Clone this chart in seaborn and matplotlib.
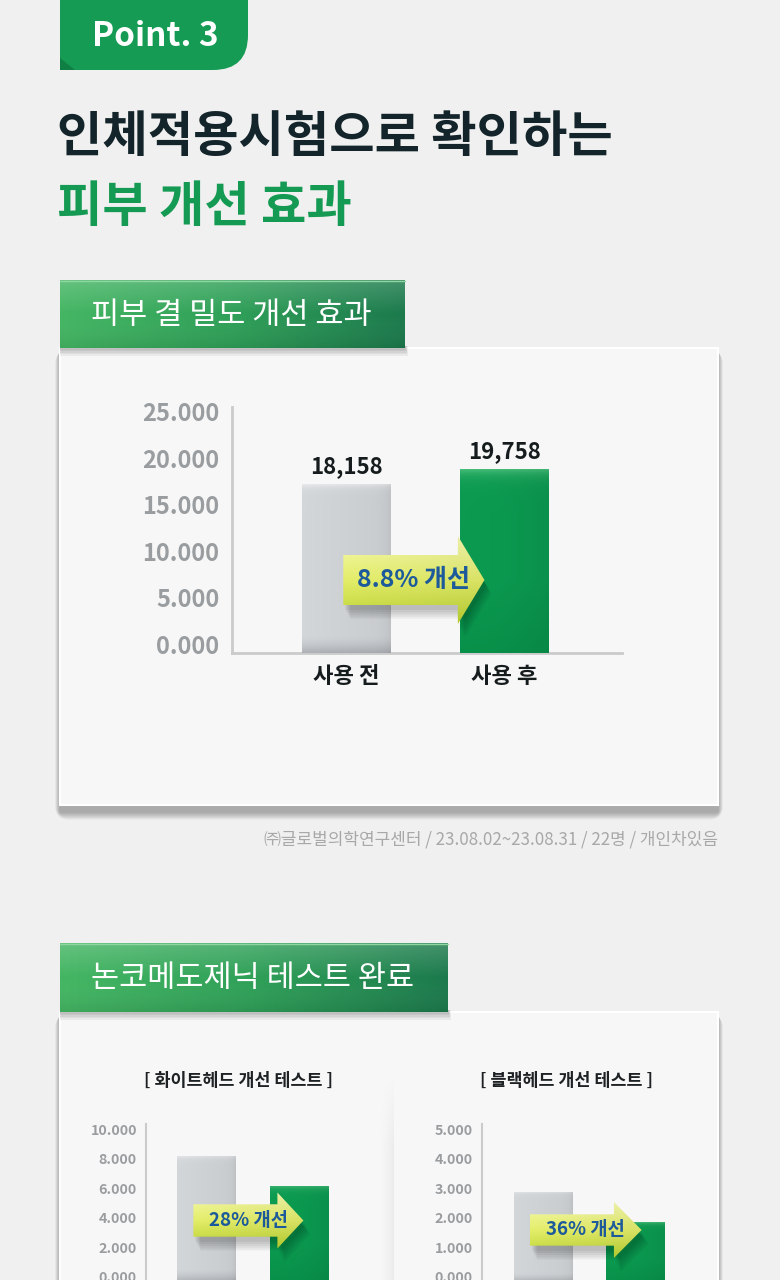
import numpy as np
import matplotlib
matplotlib.use("Agg")
import matplotlib.pyplot as plt
import seaborn as sns
import pandas as pd
from matplotlib.patches import FancyBboxPatch, Rectangle, Polygon
from matplotlib.colors import LinearSegmentedColormap, to_rgb
from matplotlib.transforms import ScaledTranslation

# ---------------- data ----------------
categories = ["사용 전", "사용 후"]

density_values = [18158, 19758]
density_labels = ["18,158", "19,758"]
density_ticks = [0, 5000, 10000, 15000, 20000, 25000]
density_ticklabels = ["0.000", "5.000", "10.000", "15.000", "20.000", "25.000"]
density_change = "8.8% 개선"

whitehead_values = [8560, 6510]
whitehead_ticks = [0, 2000, 4000, 6000, 8000, 10000]
whitehead_ticklabels = ["0.000", "2.000", "4.000", "6.000", "8.000", "10.000"]
whitehead_change = "28% 개선"

blackhead_values = [3060, 2020]
blackhead_ticks = [0, 1000, 2000, 3000, 4000, 5000]
blackhead_ticklabels = ["0.000", "1.000", "2.000", "3.000", "4.000", "5.000"]
blackhead_change = "36% 개선"

point_label = "Point. 3"
title_line1 = "인체적용시험으로 확인하는"
title_line2 = "피부 개선 효과"
section1_title = "피부 결 밀도 개선 효과"
section2_title = "논코메도제닉 테스트 완료"
sub_titles = ["[ 화이트헤드 개선 테스트 ]", "[ 블랙헤드 개선 테스트 ]"]
footnote = "㈜글로벌의학연구센터 / 23.08.02~23.08.31 / 22명 / 개인차있음"

# ---------------- style ----------------
sns.set_theme(style="white")
plt.rcParams['font.family'] = ['Noto Sans CJK KR', 'DejaVu Sans']

BG = "#f0f0f0"
CARD = "#f7f7f7"
GREEN = "#0b9a50"
GRAY = "#c9cdd1"
DARK = "#13242a"
TICK = "#9a9da0"
BLUE = "#1d5a9b"

W, H = 780, 1280
fig = plt.figure(figsize=(7.8, 12.8), dpi=100, facecolor=BG)
bg = fig.add_axes([0, 0, 1, 1], zorder=0)
bg.set_xlim(0, W)
bg.set_ylim(H, 0)
bg.axis('off')
bg.set_autoscale_on(False)


def bg_grad(x0, y0, x1, y1, colors, direction='h', zorder=1, clip=None, alpha=1.0):
    cmap = LinearSegmentedColormap.from_list('g', colors)
    g = np.linspace(0, 1, 256)
    arr = g[None, :] if direction == 'h' else g[:, None]
    im = bg.imshow(arr, cmap=cmap, extent=[x0, x1, y1, y0], origin='upper',
                   aspect='auto', zorder=zorder, interpolation='bilinear', alpha=alpha)
    if clip is not None:
        im.set_clip_path(clip)
    return im


def card_shadow(x0, y0, x1, y1, layers=10, spread=14, dy=7, alpha=0.03):
    for i in range(layers):
        s = spread * (i + 1) / layers
        bg.add_patch(FancyBboxPatch((x0 - s * 0.35, y0 + dy * 0.4),
                                    (x1 - x0) + s * 0.7, (y1 - y0) + s * 0.55 + dy * 0.6,
                                    boxstyle=f"round,pad=0,rounding_size={s}",
                                    fc='black', ec='none', alpha=alpha, zorder=1))


def header_box(x0, y0, x1, y1, text):
    for i in range(5):
        s = 1.5 * (i + 1)
        bg.add_patch(Rectangle((x0, y1 - 2), (x1 - x0) + s * 0.4, 2 + s,
                               fc='black', ec='none', alpha=0.05, zorder=4))
    rect = Rectangle((x0, y0), x1 - x0, y1 - y0, fc='none', ec='none', zorder=5)
    bg.add_patch(rect)
    bg_grad(x0, y0, x1, y1, ["#44b663", "#2fa058", "#1c7a4c"], 'h', zorder=5, clip=rect)
    bg_grad(x0, y0, x1, y1, [(1, 1, 1, 0.18), (1, 1, 1, 0.0), (0, 0, 0, 0.08)], 'v', zorder=5.1, clip=rect)
    bg.plot([x0, x1], [y0 + 0.8, y0 + 0.8], color="#8fd6a0", lw=1.0, zorder=5.2)
    bg.text(x0 + 31, (y0 + y1) / 2 + 1, text, color='white', fontsize=22,
            ha='left', va='center', zorder=6)


# ---------------- top heading ----------------
pill = FancyBboxPatch((60, -40), 188, 110, boxstyle="round,pad=0,rounding_size=35",
                      fc="#169b54", ec='none', zorder=3)
bg.add_patch(pill)
bg.add_patch(Rectangle((60, 30), 40, 40, fc="#169b54", ec='none', zorder=3))
bg.add_patch(Polygon([(60, 58), (60, 70), (75, 70)], closed=True, fc="#0f7f44", ec='none', zorder=3.1))
bg.text(155, 37, point_label, color='white', fontsize=24, fontweight='bold',
        ha='center', va='center', zorder=4)

bg.text(57, 137, title_line1, color=DARK, fontsize=35.5, fontweight=900,
        ha='left', va='center', zorder=4)
bg.text(57, 207, title_line2, color="#149a52", fontsize=35.5, fontweight=900,
        ha='left', va='center', zorder=4)

# ---------------- card 1 ----------------
card_shadow(60, 348, 718, 805)
bg.add_patch(Rectangle((60, 348), 658, 457, fc=CARD, ec='white', lw=1.5, zorder=2))
header_box(60, 280, 405, 348, section1_title)

bg.text(718, 840, footnote, color="#a8a8a8", fontsize=12.2, ha='right', va='center', zorder=4)

# ---------------- card 2 ----------------
card_shadow(60, 1012, 718, 1330)
bg.add_patch(Rectangle((60, 1012), 658, 330, fc=CARD, ec='white', lw=1.5, zorder=2))
# raised right panel edge: soft vertical shadow, fading towards the top
sx = np.linspace(0, 1, 64)[None, :] ** 2
sy = np.clip(np.linspace(0, 1, 128)[:, None] / 0.35, 0, 1)
shade = np.zeros((128, 64, 4))
shade[..., 3] = 0.05 * sx * sy
bg.imshow(shade, extent=[374, 394, 1290, 1070], origin='upper', aspect='auto',
          zorder=2.2, interpolation='bilinear')
header_box(60, 943, 448, 1012, section2_title)

bg.text(238, 1081, sub_titles[0], color="#1e2224", fontsize=12.5, fontweight='bold',
        ha='center', va='center', zorder=4)
bg.text(567, 1081, sub_titles[1], color="#1e2224", fontsize=12.5, fontweight='bold',
        ha='center', va='center', zorder=4)


# ---------------- chart helpers ----------------
def px_axes(x0, y0, x1, y1):
    ax = fig.add_axes([x0 / W, 1 - y1 / H, (x1 - x0) / W, (y1 - y0) / H], zorder=3)
    ax.patch.set_alpha(0)
    return ax


def bar_image(kind, n=200, m=60):
    t = np.linspace(0, 1, n)[:, None]      # 0 top -> 1 bottom
    s = np.linspace(0, 1, m)[None, :]      # 0 left -> 1 right
    if kind == 'gray':
        base = np.array(to_rgb("#cdd0d3"))
        top = np.array(to_rgb("#e2e4e6"))
        bottom = np.array(to_rgb("#a9adb1"))
        wt = np.exp(-t / 0.02)
        wb = np.clip((t - 0.9) / 0.1, 0, 1) ** 1.5
        img = base * (1 - wt - wb)[..., None] + top * wt[..., None] + bottom * wb[..., None]
        hf = 1.03 - 0.05 * s - 0.05 * np.exp(-(1 - s) / 0.06)
        img = img * hf[..., None]
    else:
        base = np.array(to_rgb(GREEN))
        top = np.array(to_rgb("#4cc07c"))
        bottom = np.array(to_rgb("#078a45"))
        wt = np.exp(-t / 0.035) * 0.9
        wb = np.clip((t - 0.6) / 0.4, 0, 1) * 0.6
        img = base * (1 - wt - wb)[..., None] + top * wt[..., None] + bottom * wb[..., None]
        hf = 1.0 - 0.06 * s ** 2
        img = img * hf[..., None]
    return np.clip(img, 0, 1)


def draw_chart(ax, values, ticks, ticklabels, ylim_top, xlim, width, tick_fs, label_shift,
               spine_lw, pad):
    df = pd.DataFrame({"구분": categories, "값": values})
    sns.barplot(data=df, x="구분", y="값", hue="구분", palette=[GRAY, GREEN],
                width=width, linewidth=0, saturation=1, legend=False, ax=ax)
    for patch, kind in zip(ax.patches, ['gray', 'green']):
        x, y = patch.get_x(), patch.get_y()
        w, h = patch.get_width(), patch.get_height()
        im = ax.imshow(bar_image(kind), extent=[x, x + w, y, y + h], origin='upper',
                       aspect='auto', zorder=patch.get_zorder() + 0.1, interpolation='bilinear')
        im.set_clip_path(patch)
    ax.set_xlim(*xlim)
    ax.set_ylim(0, ylim_top)
    ax.set_autoscale_on(False)
    ax.set_yticks(ticks)
    ax.set_yticklabels(ticklabels)
    ax.set_xlabel("")
    ax.set_ylabel("")
    for side in ['top', 'right']:
        ax.spines[side].set_visible(False)
    for side in ['left', 'bottom']:
        ax.spines[side].set_color("#cbcbcb")
        ax.spines[side].set_linewidth(spine_lw)
        ax.spines[side].set_zorder(1)
    ax.tick_params(axis='both', length=0)
    ax.tick_params(axis='y', pad=pad, labelsize=tick_fs, labelcolor=TICK)
    for lab in ax.get_yticklabels():
        lab.set_fontweight('bold')
        lab.set_transform(lab.get_transform() + ScaledTranslation(0, label_shift, fig.dpi_scale_trans))
    ax.grid(False)


def draw_arrow(ax, x0, xh, xt, yc, bh, hh, text, fs):
    pts = [(x0, yc - bh), (xh, yc - bh), (xh, yc - hh), (xt, yc),
           (xh, yc + hh), (xh, yc + bh), (x0, yc + bh)]
    # soft drop shadow
    for i in range(5):
        off = ScaledTranslation((2 + i * 1.2) / 100, -(5 + i * 2.2) / 100, fig.dpi_scale_trans)
        ax.add_patch(Polygon(pts, closed=True, fc='black', ec='none', alpha=0.05,
                             transform=ax.transData + off, zorder=4))
    poly = Polygon(pts, closed=True, fc='none', ec='none', zorder=5)
    ax.add_patch(poly)
    n, m = 120, 200
    t = np.linspace(0, 1, n)[:, None]
    s = np.linspace(0, 1, m)[None, :]
    top = np.array(to_rgb("#f6f9b0"))
    mid = np.array(to_rgb("#e4ee6a"))
    bot = np.array(to_rgb("#b9d030"))
    wt = np.clip(1 - t / 0.5, 0, 1)
    wb = np.clip((t - 0.5) / 0.5, 0, 1)
    img = top * wt[..., None] + mid * (1 - wt - wb)[..., None] + bot * wb[..., None]
    img = img * (1.0 - 0.05 * s)[..., None]
    im = ax.imshow(np.clip(img, 0, 1), extent=[x0, xt, yc - hh, yc + hh], origin='upper',
                   aspect='auto', zorder=5.1, interpolation='bilinear')
    im.set_clip_path(poly)
    ax.text((x0 + xt) / 2, yc, text, ha='center', va='center', color=BLUE,
            fontsize=fs, fontweight='bold', zorder=6)


# ---------------- chart 1 ----------------
ax1 = px_axes(232, 406.7, 622, 652.7)
draw_chart(ax1, density_values, density_ticks, density_ticklabels, 26452, (-0.72, 1.744),
           0.557, 17, 0.087, 2.0, 9)
ax1.tick_params(axis='x', pad=9, labelsize=16, labelcolor="#161c1e")
for lab in ax1.get_xticklabels():
    lab.set_fontweight('bold')
for i, (v, lab) in enumerate(zip(density_values, density_labels)):
    ax1.annotate(lab, (i, v), xytext=(0, 4), textcoords='offset points', ha='center',
                 va='bottom', fontsize=16, fontweight='bold', color="#161c1e", zorder=6)
draw_arrow(ax1, -0.017, 0.707, 0.875, 7817, 2688, 4731, density_change, 18)

# ---------------- chart 2 (whitehead) ----------------
ax2 = px_axes(146, 1124, 368.7, 1282)
draw_chart(ax2, whitehead_values, whitehead_ticks, whitehead_ticklabels, 10712, (-0.652, 1.746),
           0.63, 10.3, 0.055, 1.5, 6.5)
ax2.set_xticklabels([])
draw_arrow(ax2, -0.142, 0.763, 1.043, 4170, 1098, 1898, whitehead_change, 13.5)

# ---------------- chart 3 (blackhead) ----------------
ax3 = px_axes(481.7, 1124, 704, 1282)
draw_chart(ax3, blackhead_values, blackhead_ticks, blackhead_ticklabels, 5356, (-0.659, 1.74),
           0.63, 10.3, 0.055, 1.5, 6.5)
ax3.set_xticklabels([])
draw_arrow(ax3, -0.138, 0.768, 1.067, 1763, 532, 949, blackhead_change, 13.5)

fig.savefig("out.png", dpi=100, facecolor=BG)
